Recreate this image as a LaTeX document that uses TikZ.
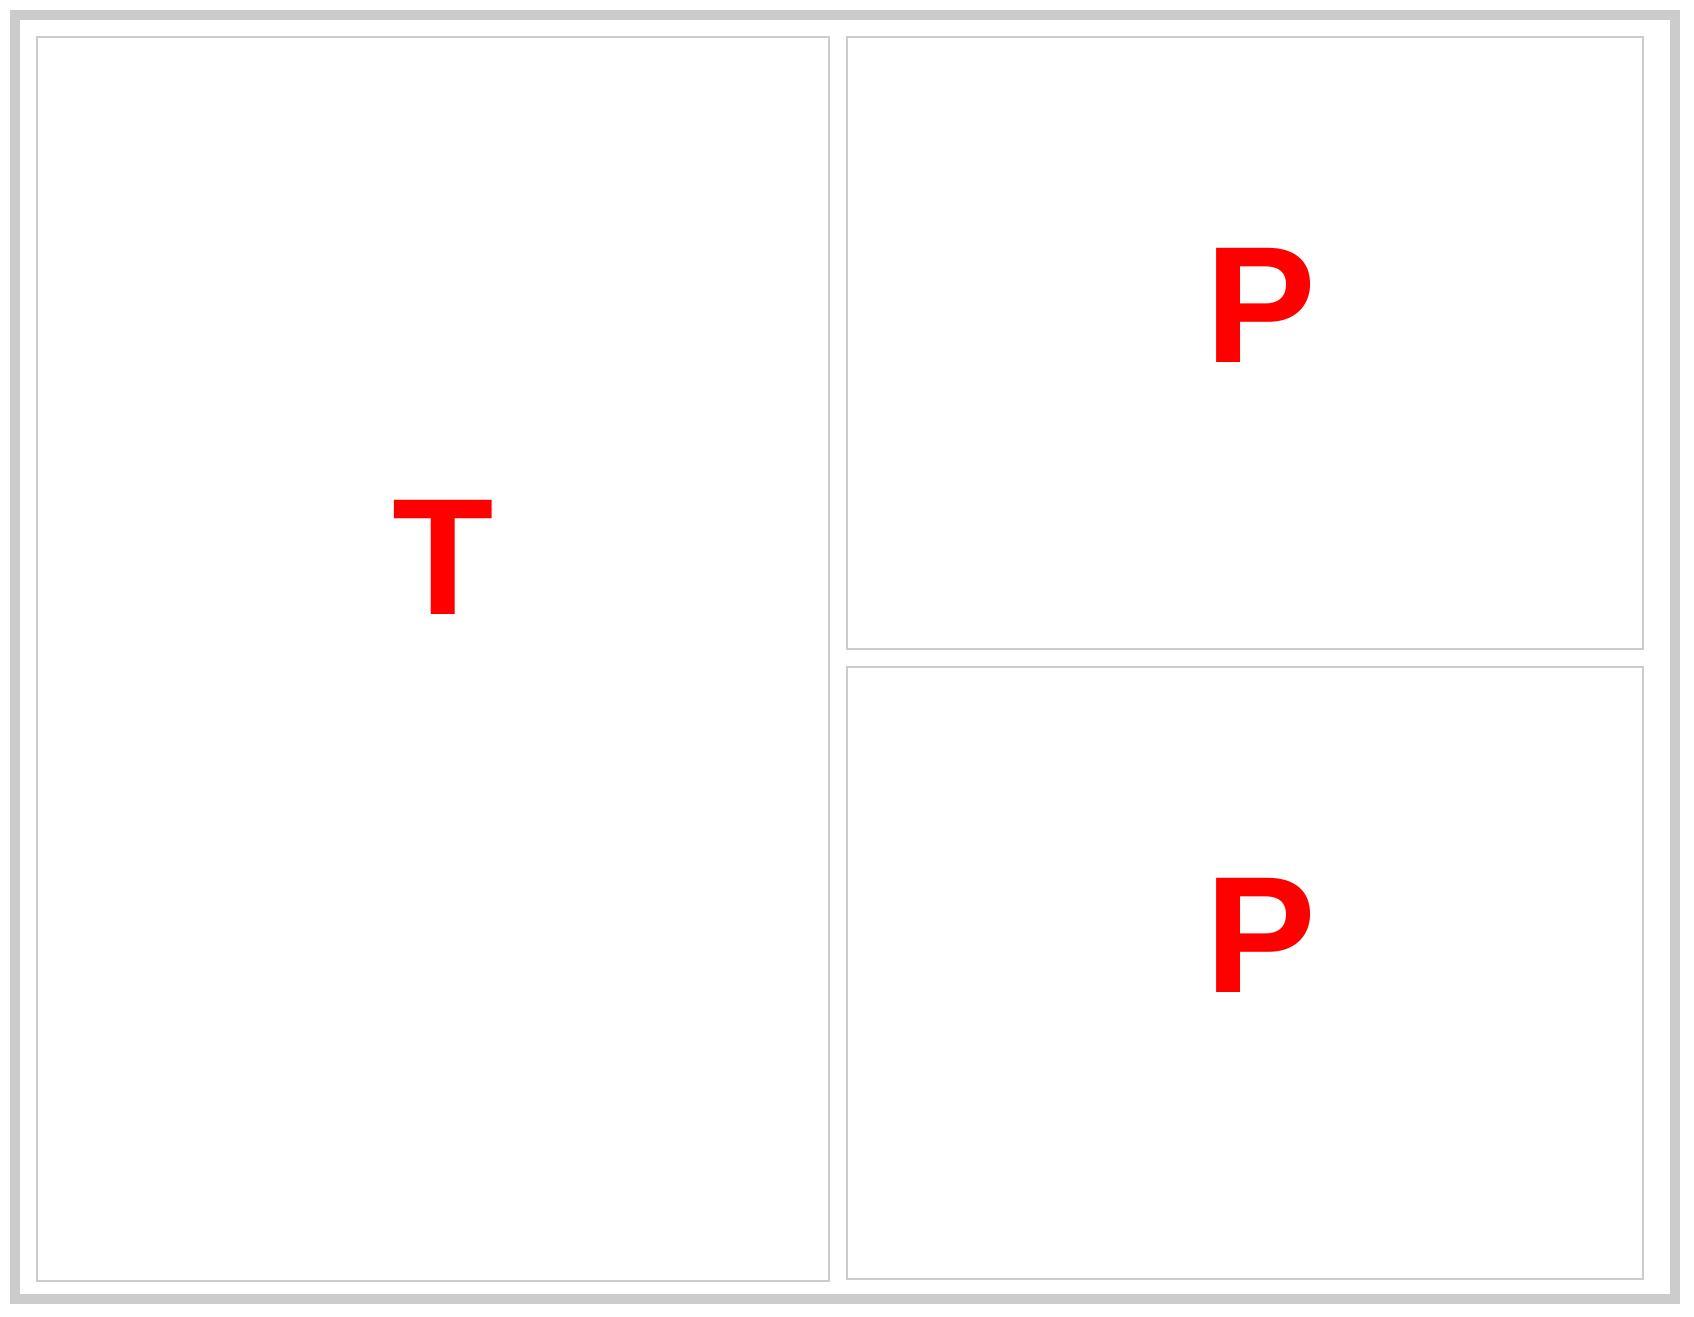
\documentclass[tikz,border=0pt]{standalone}
\usepackage{fontspec}
\setmainfont{Liberation Sans}
\usepackage{tikz}
\usetikzlibrary{positioning}
\usepackage{xcolor}
\definecolor{frame}{HTML}{CCCCCC}
\definecolor{letter}{HTML}{FF0000}

\begin{document}
\begin{tikzpicture}[
  x=0.02cm, y=-0.02cm,
  panel/.style={
    draw=frame, line width=1.14pt, fill=white, inner sep=0pt
  },
  tag/.style={
    text=letter, inner sep=0pt, anchor=base,
    font=\fontsize{94.5}{100}\selectfont\bfseries
  }
]
  \useasboundingbox (0,0) rectangle (1694,1316);
  \fill[white] (0,0) rectangle (1694,1316);

  % Outer frame
  \draw[draw=frame, line width=5.69pt] (15,15) rectangle (1675,1299);

  % Left panel
  \node[panel, minimum width=792*0.02cm, minimum height=1244*0.02cm] (tpanel) at (433,659) {};
  \node[tag] (tlabel) at (443,614) {T};

  % Right panels
  \node[panel, minimum width=796*0.02cm, minimum height=612*0.02cm] (ptop) at (1245,343) {};
  \node[panel, minimum width=796*0.02cm, minimum height=612*0.02cm] (pbot) at (1245,973) {};
  \node[tag] (ptoplabel) at (1261,362) {P};
  \node[tag] (pbotlabel) at (1261,992) {P};

\end{tikzpicture}
\end{document}
